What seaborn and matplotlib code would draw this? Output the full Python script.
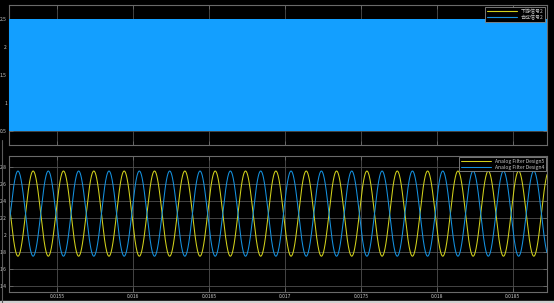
import numpy as np
import pandas as pd
import matplotlib
matplotlib.use("Agg")
import matplotlib.pyplot as plt
from matplotlib.lines import Line2D
import seaborn as sns

# ---------------- data ----------------
x_range = [0.015181, 0.018727]              # visible time window (s)
x_ticks = [0.0155, 0.016, 0.0165, 0.017, 0.0175, 0.018, 0.0185]
x_tick_labels = ["0.0155", "0.016", "0.0165", "0.017", "0.0175", "0.018", "0.0185"]

top_series = ["下游信号2", "合成信号2"]
top_low = [0.5, 0.5]                        # envelope bottom of dense signal
top_high = [2.5, 2.5]                       # envelope top of dense signal
top_yticks = [0.5, 1, 1.5, 2, 2.5]
top_ylim = [0.25, 2.75]

bottom_series = ["Analog Filter Design5", "Analog Filter Design4"]
sine_offset = [2.25, 2.25]
sine_amplitude = [0.5, 0.5]
sine_freq_hz = [5000.0, 5000.0]
sine_peak_time = [0.00014, 0.00004]         # time of first peak within period (s)
bottom_yticks = [1.4, 1.6, 1.8, 2.0, 2.2, 2.4, 2.6, 2.8]
bottom_ylabels = ["1.4", "1.6", "1.8", "2", "2.2", "2.4", "2.6", "2.8"]
bottom_ylim = [1.333, 2.93]

# ---------------- style ----------------
sns.set_theme(style="dark")
plt.rcParams['font.family'] = ['Noto Sans CJK SC', 'DejaVu Sans']
colors = ["#d6d61a", "#139fff"]
line_colors = ["#d2d21c", "#1592e0"]
grid_c = "#505050"
spine_c = "#6a6a6a"
text_c = "#c8c8c8"

fig = plt.figure(figsize=(5.54, 3.03), dpi=100, facecolor="black")
ax1 = fig.add_axes([9/554, 1-145/303, 538/554, 140/303])
ax2 = fig.add_axes([9/554, 1-291.7/303, 538/554, 136/303])

for ax in (ax1, ax2):
    ax.set_facecolor("black")
    for s in ax.spines.values():
        s.set_color(spine_c)
        s.set_linewidth(0.8)
    ax.tick_params(direction="in", length=3, width=0.6, color=spine_c,
                   labelcolor=text_c, labelsize=3.6, top=True, right=True,
                   bottom=True, left=True, pad=1.5)
    ax.grid(True, color=grid_c, linewidth=0.6)
    ax.set_xlim(x_range)
    ax.set_xticks(x_ticks)
    ax.set_xlabel("")
    ax.set_ylabel("")

# top panel: dense signal fills solid band
for i, name in enumerate(top_series):
    ax1.fill_between(x_range, [top_low[i]] * 2, [top_high[i]] * 2,
                     color=colors[i], linewidth=0, zorder=2 + i)
ax1.set_ylim(top_ylim)
ax1.set_yticks(top_yticks)
ax1.set_yticklabels(["0.5", "1", "1.5", "2", "2.5"])
ax1.set_xticklabels([])
handles = [Line2D([], [], color=c, lw=0.8) for c in line_colors]
leg1 = ax1.legend(handles, top_series, loc="upper right", fontsize=3.6,
                  facecolor="black", edgecolor="#8a8a8a", labelcolor=text_c,
                  framealpha=1, fancybox=False, handlelength=6,
                  borderpad=0.3, labelspacing=0.2, borderaxespad=0.4)
leg1.get_frame().set_linewidth(0.6)
leg1.set_zorder(10)

# bottom panel: sinusoids
t = np.linspace(x_range[0], x_range[1], 6000)
frames = []
for i, name in enumerate(bottom_series):
    y = sine_offset[i] + sine_amplitude[i] * np.cos(2*np.pi*sine_freq_hz[i]*(t - sine_peak_time[i]))
    frames.append(pd.DataFrame({"t": t, "v": y, "series": name}))
df = pd.concat(frames, ignore_index=True)
sns.lineplot(data=df, x="t", y="v", hue="series", palette=line_colors,
             hue_order=bottom_series, linewidth=0.75, ax=ax2, estimator=None,
             sort=False)
ax2.set_ylim(bottom_ylim)
ax2.set_yticks(bottom_yticks)
ax2.set_yticklabels(bottom_ylabels)
ax2.set_xticklabels(x_tick_labels)
ax2.set_xlabel("")
ax2.set_ylabel("")
leg2 = ax2.legend(loc="upper right", fontsize=3.6, facecolor="black",
                  edgecolor="#8a8a8a", labelcolor=text_c, framealpha=1,
                  fancybox=False, handlelength=6, borderpad=0.3,
                  labelspacing=0.2, borderaxespad=0.3, title=None)
leg2.get_frame().set_linewidth(0.6)

# window decorations
fig.add_artist(Line2D([2/554, 2/554], [0, 1-140/303], color="#5a5a5a", lw=0.8,
                      transform=fig.transFigure))
fig.add_artist(plt.Rectangle((0, 0), 1, 2/303, color="#d0d0d0",
                             transform=fig.transFigure))

fig.savefig("out.png", dpi=100, facecolor="black")
